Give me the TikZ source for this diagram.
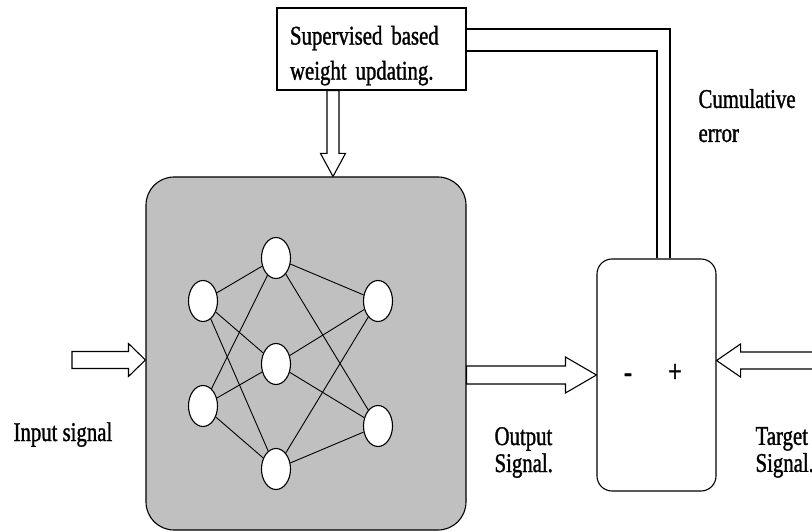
\documentclass[tikz,border=0pt]{standalone}
\usepackage{fontspec}
\newfontfamily\lblfont[FakeStretch=0.77,FakeBold=1.2]{Liberation Serif}
\usetikzlibrary{calc,shapes.geometric}
\definecolor{netgray}{RGB}{192,192,192}

% hollow block arrow: tail, tip, shaft half width, head half width, head length
\newcommand{\hollowarrow}[5]{%
  \path ($(#2)!#5!(#1)$) coordinate (hb);
  \draw [black,fill=white] ($(#1)!#3!90:(#2)$) -- ($(hb)!#3!90:(#2)$) -- ($(hb)!#4!90:(#2)$) -- (#2)
    -- ($(hb)!#4!-90:(#2)$) -- ($(hb)!#3!-90:(#2)$) -- ($(#1)!#3!-90:(#2)$) -- cycle;}

\begin{document}
\begin{tikzpicture}[x=1pt,y=-1pt,line width=1.1pt]
\tikzstyle{every node}+=[inner sep=0pt]
\tikzstyle{lbl}=[font={\lblfont\fontsize{27}{34}\selectfont\lineskiplimit=-50pt}, align=left]
\tikzstyle{lbltight}=[lbl, font={\lblfont\fontsize{27}{27}\selectfont\lineskiplimit=-50pt}]
\tikzstyle{neuron}=[draw, fill=white, ellipse, minimum width=29pt, minimum height=41pt]
\useasboundingbox (0,0) rectangle (812,532);

% blocks
\node [draw, fill=netgray, rounded corners=28pt, minimum width=320pt, minimum height=353pt] (net) at (306,353.5) {};
\node [draw, rounded corners=15pt, minimum width=119pt, minimum height=232pt] (cmp) at (656.5,375) {};
\node [lbl, draw, text width=163pt, inner xsep=13pt, minimum height=82pt,
  font={\lblfont\fontsize{27}{35}\selectfont\lineskiplimit=-50pt}] (upd) at (371.5,49)
  {\rule{0pt}{32pt}Supervised based\\weight updating.};

% network
\node [neuron] (in1) at (203,301) {};
\node [neuron] (in2) at (203,406) {};
\node [neuron] (hid1) at (276,258) {};
\node [neuron] (hid2) at (276,364) {};
\node [neuron] (hid3) at (276,469) {};
\node [neuron] (out1) at (378,301) {};
\node [neuron] (out2) at (378,426) {};
\draw [line width=0.9pt] (in1) -- (hid1);
\draw [line width=0.9pt] (in1) -- (hid2);
\draw [line width=0.9pt] (in1) -- (hid3);
\draw [line width=0.9pt] (in2) -- (hid1);
\draw [line width=0.9pt] (in2) -- (hid2);
\draw [line width=0.9pt] (in2) -- (hid3);
\draw [line width=0.9pt] (hid1) -- (out1);
\draw [line width=0.9pt] (hid1) -- (out2);
\draw [line width=0.9pt] (hid2) -- (out1);
\draw [line width=0.9pt] (hid2) -- (out2);
\draw [line width=0.9pt] (hid3) -- (out1);
\draw [line width=0.9pt] (hid3) -- (out2);

% block arrows
\coordinate (intail) at (72,360);
\coordinate (intip) at (intail -| net.west);
\hollowarrow{intail}{intip}{8.5pt}{16.5pt}{17pt}
\coordinate (outtail) at (net.east |- cmp.west);
\hollowarrow{outtail}{cmp.west}{9pt}{18pt}{31pt}
\coordinate (tgttip) at ([yshift=14.5pt]cmp.east);
\coordinate (tgttail) at ($(tgttip)+(110,0)$);
\hollowarrow{tgttail}{tgttip}{8.5pt}{16.5pt}{24pt}
\coordinate (updtail) at ($(upd.south)+(-38.5,0)$);
\coordinate (updtip) at (updtail |- net.north);
\hollowarrow{updtail}{updtip}{6pt}{12.5pt}{23pt}

% error feedback
\draw ([yshift=20pt]upd.east) -| ([xshift=13.5pt]cmp.north);
\draw ([yshift=-2pt]upd.east) -| ([xshift=0.5pt]cmp.north);

% labels
\node [lbl, font={\lblfont\fontsize{32}{34}\selectfont}] (minus) at (628,378) {-};
\node [lbl, font={\lblfont\fontsize{32}{34}\selectfont}] (plus) at (675,373) {+};
\node [lbl, anchor=base west] (inlbl) at (13,441) {Input signal};
\node [lbltight, anchor=north west] (outlbl) at (494,426.6) {Output\\Signal.};
\node [lbltight, anchor=north west] (tgtlbl) at (755,426.6) {Target\\Signal.};
\node [lbl, anchor=north west] (errlbl) at (698,88.6) {Cumulative\\error};
\end{tikzpicture}
\end{document}
